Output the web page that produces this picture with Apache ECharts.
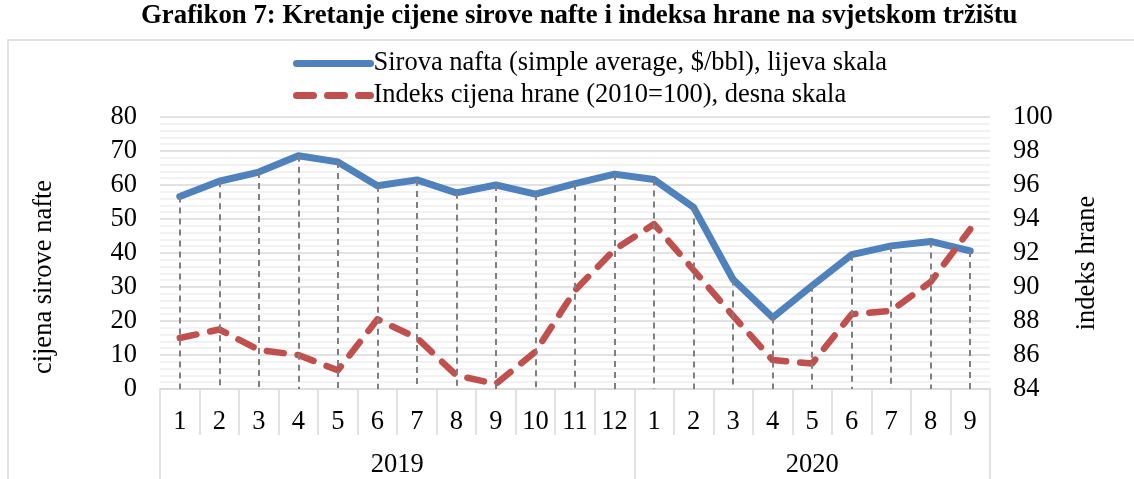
<!DOCTYPE html>
<html>
<head>
<meta charset="utf-8">
<script src="https://cdn.jsdelivr.net/npm/echarts@6/dist/echarts.min.js"></script>
<style>
  html, body { margin: 0; padding: 0; background: #fff; }
  #chart { width: 1134px; height: 479px; }
</style>
</head>
<body>
<div id="chart"></div>
<script>
// mjeseci (2019: 1-12, 2020: 1-9)
var months = ['1', '2', '3', '4', '5', '6', '7', '8', '9', '10', '11', '12',
              '1', '2', '3', '4', '5', '6', '7', '8', '9'];
var years = ['2019', '2020'];

// sirova nafta, $/bbl (lijeva skala)
var oilPrice = [56.6, 61.1, 63.8, 68.6, 66.8, 59.8, 61.5, 57.7, 60.0, 57.3, 60.4, 63.2,
                61.6, 53.4, 32.2, 21.0, 30.4, 39.5, 42.1, 43.4, 40.6];
// indeks cijena hrane, 2010=100 (desna skala)
var foodIndex = [87.0, 87.5, 86.3, 86.0, 85.1, 88.1, 87.0, 84.8, 84.3, 86.2, 89.8, 92.2,
                 93.7, 91.0, 88.3, 85.7, 85.5, 88.4, 88.6, 90.3, 93.4];

var oilName = 'Sirova nafta (simple average, $/bbl), lijeva skala';
var foodName = 'Indeks cijena hrane (2010=100), desna skala';

var FONT = '"Liberation Serif", "Times New Roman", serif';
var FS = 26.5;
var GRID_COLOR = '#d9d9d9';

// granice godina na x osi (pocetak nove godine kad mjesec krene od 1)
var yearStarts = [];
months.forEach(function (m, i) { if (m === '1') yearStarts.push(i); });
var yearBounds = yearStarts.concat([months.length]);
var yearCenters = [];
for (var k = 0; k < yearStarts.length; k++) {
    yearCenters.push((yearBounds[k] + yearBounds[k + 1]) / 2);
}

var chart = echarts.init(document.getElementById('chart'));

var option = {
    animation: false,
    backgroundColor: '#fff',
    title: {
        text: 'Grafikon 7: Kretanje cijene sirove nafte i indeksa hrane na svjetskom tržištu',
        left: 141,
        top: 3,
        padding: 0,
        textStyle: {
            fontFamily: FONT,
            fontWeight: 'bold',
            fontSize: 26.8,
            color: '#000'
        }
    },
    graphic: [{
        type: 'rect',
        shape: { x: 8, y: 40, width: 1200, height: 500 },
        style: { fill: 'none', stroke: GRID_COLOR, lineWidth: 1.5 },
        silent: true
    }],
    legend: {
        data: [oilName, foodName],
        orient: 'vertical',
        left: 293,
        top: 50,
        padding: 0,
        itemWidth: 74,
        itemHeight: 14,
        itemGap: 5,
        itemStyle: { opacity: 0 },
        lineStyle: { width: 7 },
        textStyle: {
            fontFamily: FONT,
            fontSize: FS,
            color: '#000',
            padding: [0, 0, 0, -2]
        }
    },
    grid: {
        left: 160,
        right: 144,
        top: 117,
        bottom: 89
    },
    xAxis: [{
        type: 'category',
        data: months,
        position: 'bottom',
        boundaryGap: true,
        axisLine: { show: true, lineStyle: { color: GRID_COLOR, width: 1.5 } },
        axisTick: {
            show: true,
            interval: 0,
            length: 46,
            lineStyle: { color: GRID_COLOR, width: 1.5 }
        },
        axisLabel: {
            interval: 0,
            margin: 20,
            fontFamily: FONT,
            fontSize: FS,
            color: '#000'
        }
    }, {
        // razina godina
        type: 'value',
        position: 'bottom',
        min: 0,
        max: months.length,
        axisLine: { show: false },
        splitLine: { show: false },
        axisTick: {
            show: true,
            customValues: yearBounds,
            length: 120,
            lineStyle: { color: GRID_COLOR, width: 1.5 }
        },
        axisLabel: {
            customValues: yearCenters,
            margin: 63,
            fontFamily: FONT,
            fontSize: FS,
            color: '#000',
            formatter: function (v) {
                var idx = yearCenters.indexOf(v);
                return idx >= 0 ? years[idx] : '';
            }
        }
    }],
    yAxis: [{
        type: 'value',
        min: 0,
        max: 80,
        interval: 10,
        name: 'cijena sirove nafte',
        nameLocation: 'middle',
        nameRotate: 90,
        nameGap: 102,
        nameTextStyle: { fontFamily: FONT, fontSize: FS, color: '#000', padding: [0, 48, 0, 0] },
        axisLine: { show: false },
        axisTick: { show: false },
        axisLabel: { margin: 23, fontFamily: FONT, fontSize: FS, color: '#000' },
        splitLine: { show: true, lineStyle: { color: GRID_COLOR, width: 1.5 } },
        minorTick: { show: false, splitNumber: 5 },
        minorSplitLine: { show: true, lineStyle: { color: '#eeeeee', width: 1.5 } }
    }, {
        type: 'value',
        min: 84,
        max: 100,
        interval: 2,
        name: 'indeks hrane',
        nameLocation: 'middle',
        nameRotate: 90,
        nameGap: 84,
        nameTextStyle: { fontFamily: FONT, fontSize: FS, color: '#000', padding: [0, 20, 0, 0] },
        axisLine: { show: false },
        axisTick: { show: false },
        axisLabel: { margin: 23, fontFamily: FONT, fontSize: FS, color: '#000' },
        splitLine: { show: false }
    }],
    series: [{
        // okomite isprekidane linije do osi (drop lines)
        name: 'drop',
        type: 'line',
        data: oilPrice,
        xAxisIndex: 0,
        yAxisIndex: 0,
        showSymbol: false,
        symbol: 'none',
        lineStyle: { opacity: 0, width: 0 },
        silent: true,
        z: 1,
        markLine: {
            silent: true,
            symbol: 'none',
            label: { show: false },
            lineStyle: { color: '#7f7f7f', type: [6, 5], width: 2 },
            data: oilPrice.map(function (v, i) {
                return [{ coord: [i, v] }, { coord: [i, 0] }];
            })
        }
    }, {
        name: oilName,
        type: 'line',
        data: oilPrice,
        xAxisIndex: 0,
        yAxisIndex: 0,
        symbol: 'none',
        z: 3,
        itemStyle: { color: '#4f81bd' },
        lineStyle: { color: '#4f81bd', width: 7, cap: 'round', join: 'round' }
    }, {
        name: foodName,
        type: 'line',
        data: foodIndex,
        xAxisIndex: 0,
        yAxisIndex: 1,
        symbol: 'none',
        z: 4,
        itemStyle: { color: '#c0504d' },
        lineStyle: { color: '#c0504d', width: 6.5, type: [17, 14], cap: 'round', join: 'round' }
    }]
};

chart.setOption(option);
</script>
</body>
</html>
